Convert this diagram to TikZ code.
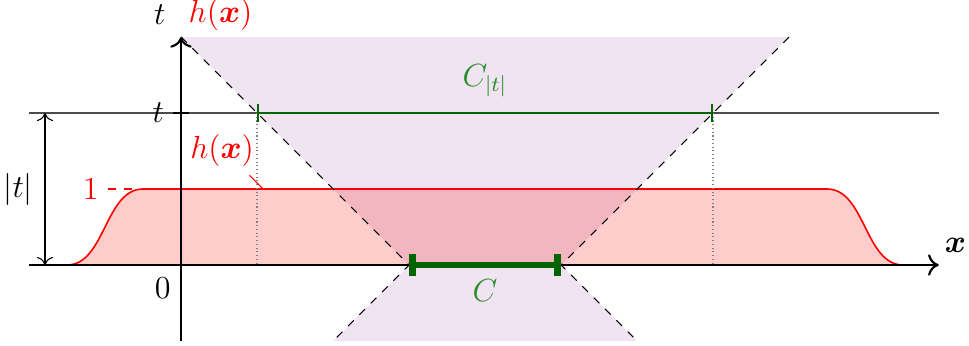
\documentclass[tikz,border=0pt]{standalone}
\usepackage{amsmath}
\usepackage{amssymb}
\usepackage{tikz}
\usetikzlibrary{arrows.meta,positioning,calc}
\definecolor{conefill}{RGB}{240,228,242}
\definecolor{cgreen}{RGB}{0,100,0}
\definecolor{clabel}{RGB}{40,140,40}

\begin{document}
\begin{tikzpicture}[
  font=\large,
  axis/.style={thick, -{To[length=4pt,width=8pt]}},
  cone/.style={fill=conefill, draw=none},
  coneedge/.style={dashed, black},
  hfill/.style={fill=red, fill opacity=0.2, draw=none},
  hcurve/.style={red, semithick},
  guide/.style={densely dotted, gray},
  tline/.style={black!70},
  setC/.style={cgreen, line width=2pt, {Bar[width=8pt,line width=2.5pt]}-{Bar[width=8pt,line width=2.5pt]}},
  setCt/.style={cgreen, line width=0.9pt, {Bar[width=7pt]}-{Bar[width=7pt]}}
]
  \useasboundingbox (-2.382,-1.053) rectangle (10.368,3.487);

  % cone over C and its reflection below the axis
  \fill[cone] (3,0) -- (0,3) -- (8,3) -- (5,0) -- cycle;
  \fill[cone] (3,0) -- (2,-1) -- (6,-1) -- (5,0) -- cycle;

  % h(x)
  \fill[hfill] (-1.5,0) .. controls (-1,0) and (-1,1) .. (-0.5,1) -- (8.5,1)
    .. controls (9,1) and (9,0) .. (9.5,0) -- cycle;
  \draw[hcurve] (-1.5,0) .. controls (-1,0) and (-1,1) .. (-0.5,1) -- (8.5,1)
    .. controls (9,1) and (9,0) .. (9.5,0);

  % cone edges
  \draw[coneedge] (0,3) -- (3,0) -- (2,-1);
  \draw[coneedge] (8,3) -- (5,0) -- (6,-1);

  % axes
  \coordinate (xstart) at (-2,0);
  \coordinate (xend) at (9.97,0);
  \coordinate (ystart) at (0,-1);
  \coordinate (yend) at (0,3);
  \draw[axis] (xstart) -- (xend);
  \draw[axis] (ystart) -- (yend);
  \node (xlab) at (10.19,0.26) {$\boldsymbol{x}$};
  \node (tlab) at (-0.28,3.3) {$t$};
  \node[red] (hlab) at (0.52,3.3) {$h(\boldsymbol{x})$};
  \node (zero) at (-0.24,-0.3) {$0$};

  % level t
  \coordinate (tl) at (-2,2);
  \coordinate (tr) at (9.97,2);
  \draw[tline] (tl) -- (tr);
  \draw[thick] (-0.1,2) -- (0.1,2);
  \node[left=0pt of {(-0.1,2)}] (tick) {$t$};

  % level 1
  \coordinate (one) at (-0.54,1);
  \draw[red, dashed] (-0.96,1) -- (one);
  \node[red, left=0pt of {(-0.96,1)}] (onelab) {$1$};

  % |t|
  \coordinate (abot) at (-1.79,0);
  \coordinate (atop) at (-1.79,2);
  \draw[{To[length=3pt,width=6pt]}-{To[length=3pt,width=6pt]}] (abot) -- (atop);
  \node[left=1pt of {(-1.79,1)}] (abslab) {$|t|$};

  % C_|t|
  \coordinate (ctl) at (1,2);
  \coordinate (ctr) at (7,2);
  \coordinate (ctlb) at (1,0);
  \coordinate (ctrb) at (7,0);
  \draw[guide] (ctl) -- (ctlb);
  \draw[guide] (ctr) -- (ctrb);
  \draw[setCt] (ctl) -- (ctr);
  \node[clabel] (ctlab) at (4,2.42) {$C_{|t|}$};

  % C
  \coordinate (cl) at (3,0);
  \coordinate (cr) at (5,0);
  \draw[setC] (cl) -- (cr);
  \node[clabel, below=2pt of {(4,0)}] (clab) {$C$};

  % label of h
  \node[red] (hcur) at (0.54,1.51) {$h(\boldsymbol{x})$};
  \coordinate (hpt) at (1.08,1);
  \draw[red] (0.9,1.18) -- (hpt);
\end{tikzpicture}
\end{document}
